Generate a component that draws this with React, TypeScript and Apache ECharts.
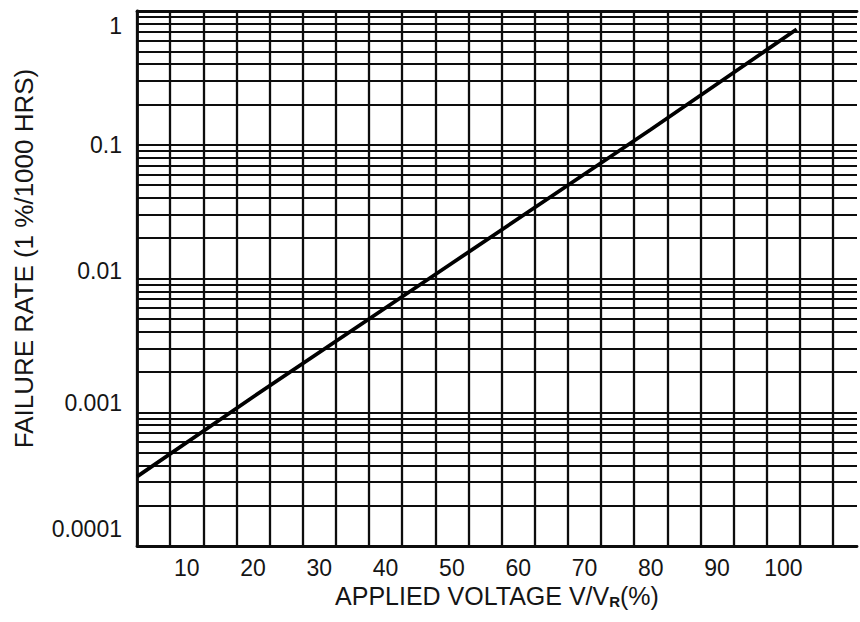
import React, { useEffect, useRef } from "react";
import * as echarts from "echarts";

// Data
const voltage = [2.5, 20, 50, 80, 102];
const failureRate = [0.00033, 0.0013, 0.013, 0.13, 0.73];

const xLabelValues = [10, 20, 30, 40, 50, 60, 70, 80, 90, 100];
const yTickValues = [0.0001, 0.001, 0.01, 0.1, 1];
const yTickLabels = ["0.0001", "0.001", "0.01", "0.1", "1"];
const minorDecades = [0.0001, 0.001, 0.01, 0.1];
const minorMultipliers = [2, 3, 4, 5, 6, 7, 8, 9];

// Style: vertical label shifts (px, negative = up) as in the scanned original
const yLabelShift = [-17, -9, -8, 0, 15];

const X_MIN = 2.5;
const X_MAX = 111.1;
const INK = "#0d0d0d";
const TEXT = "#151515";
const FONT = "'Liberation Sans', Arial, Helvetica, sans-serif";

export default function App() {
  const ref = useRef<HTMLDivElement>(null);

  useEffect(() => {
    if (!ref.current) return;
    const chart = echarts.init(ref.current, undefined, { renderer: "svg" });

    const minorLines: number[] = [];
    minorDecades.forEach((d) =>
      minorMultipliers.forEach((m) => minorLines.push(+(d * m).toPrecision(6)))
    );

    const yRich: Record<string, any> = {};
    yTickValues.forEach((_, i) => {
      const s = yLabelShift[i];
      yRich["l" + i] = {
        fontSize: 23,
        fontFamily: FONT,
        color: TEXT,
        padding: s > 0 ? [2 * s, 0, 0, 0] : [0, 0, -2 * s, 0],
      };
    });

    chart.setOption({
      animation: false,
      backgroundColor: "#fff",
      grid: { left: 137, right: 0, top: 11, bottom: 76, containLabel: false },
      xAxis: [
        {
          type: "value",
          position: "bottom",
          min: X_MIN,
          max: X_MAX,
          interval: 5,
          axisLine: { show: true, lineStyle: { color: INK, width: 2.8 } },
          axisTick: { show: false },
          axisLabel: { show: false },
          splitLine: {
            show: true,
            showMaxLine: false,
            lineStyle: { color: INK, width: 2.3 },
          },
        },
        {
          type: "value",
          position: "bottom",
          min: X_MIN,
          max: X_MAX,
          interval: 2.5,
          axisLine: { show: false },
          axisTick: { show: false },
          splitLine: { show: false },
          axisLabel: {
            margin: 10,
            fontSize: 23,
            fontFamily: FONT,
            color: TEXT,
            formatter: (v: number) => {
              const r = Math.round(v * 10) / 10;
              return xLabelValues.includes(r) ? String(r) : "";
            },
          },
          name: "APPLIED VOLTAGE V/V{sub|R}(%)",
          nameLocation: "middle",
          nameGap: 37,
          nameTextStyle: {
            fontSize: 25,
            fontFamily: FONT,
            color: TEXT,
            rich: {
              sub: {
                fontSize: 15,
                fontWeight: "bold",
                fontFamily: FONT,
                color: TEXT,
                padding: [10, 0, 0, 0],
              },
            },
          },
        },
        {
          type: "value",
          position: "top",
          min: X_MIN,
          max: X_MAX,
          axisLine: { show: true, lineStyle: { color: INK, width: 2.8 } },
          axisTick: { show: false },
          axisLabel: { show: false },
          splitLine: { show: false },
        },
      ],
      yAxis: {
        type: "log",
        logBase: 10,
        min: 0.0001,
        max: 1,
        axisLine: { show: true, lineStyle: { color: INK, width: 2.8 } },
        axisTick: { show: false },
        splitLine: { show: true, lineStyle: { color: INK, width: 2 } },
        axisLabel: {
          margin: 15,
          fontSize: 23,
          fontFamily: FONT,
          color: TEXT,
          formatter: (v: number) => {
            const i = yTickValues.findIndex(
              (t) => Math.abs(Math.log10(t) - Math.log10(v)) < 1e-6
            );
            return i < 0 ? "" : `{l${i}|${yTickLabels[i]}}`;
          },
          rich: yRich,
        },
        name: "FAILURE RATE (1 %/1000 HRS)",
        nameLocation: "middle",
        nameRotate: 90,
        nameGap: 100,
        nameTextStyle: {
          fontSize: 26,
          fontFamily: FONT,
          color: TEXT,
          padding: [0, 0, 0, 40],
        },
      },
      series: [
        {
          type: "line",
          xAxisIndex: 0,
          yAxisIndex: 0,
          z: 3,
          data: voltage.map((v, i) => [v, failureRate[i]]),
          showSymbol: false,
          symbol: "none",
          lineStyle: { color: "#000", width: 3.8 },
          clip: true,
          markLine: {
            z: 1,
            silent: true,
            precision: 8,
            symbol: ["none", "none"],
            label: { show: false },
            lineStyle: { color: INK, width: 2, type: "solid" },
            emphasis: { disabled: true },
            data: minorLines.map((v) => ({ yAxis: v })),
          },
        },
      ],
    });

    return () => chart.dispose();
  }, []);

  return (
    <div
      ref={ref}
      style={{ position: "absolute", left: 0, top: 0, width: 860, height: 622 }}
    />
  );
}
